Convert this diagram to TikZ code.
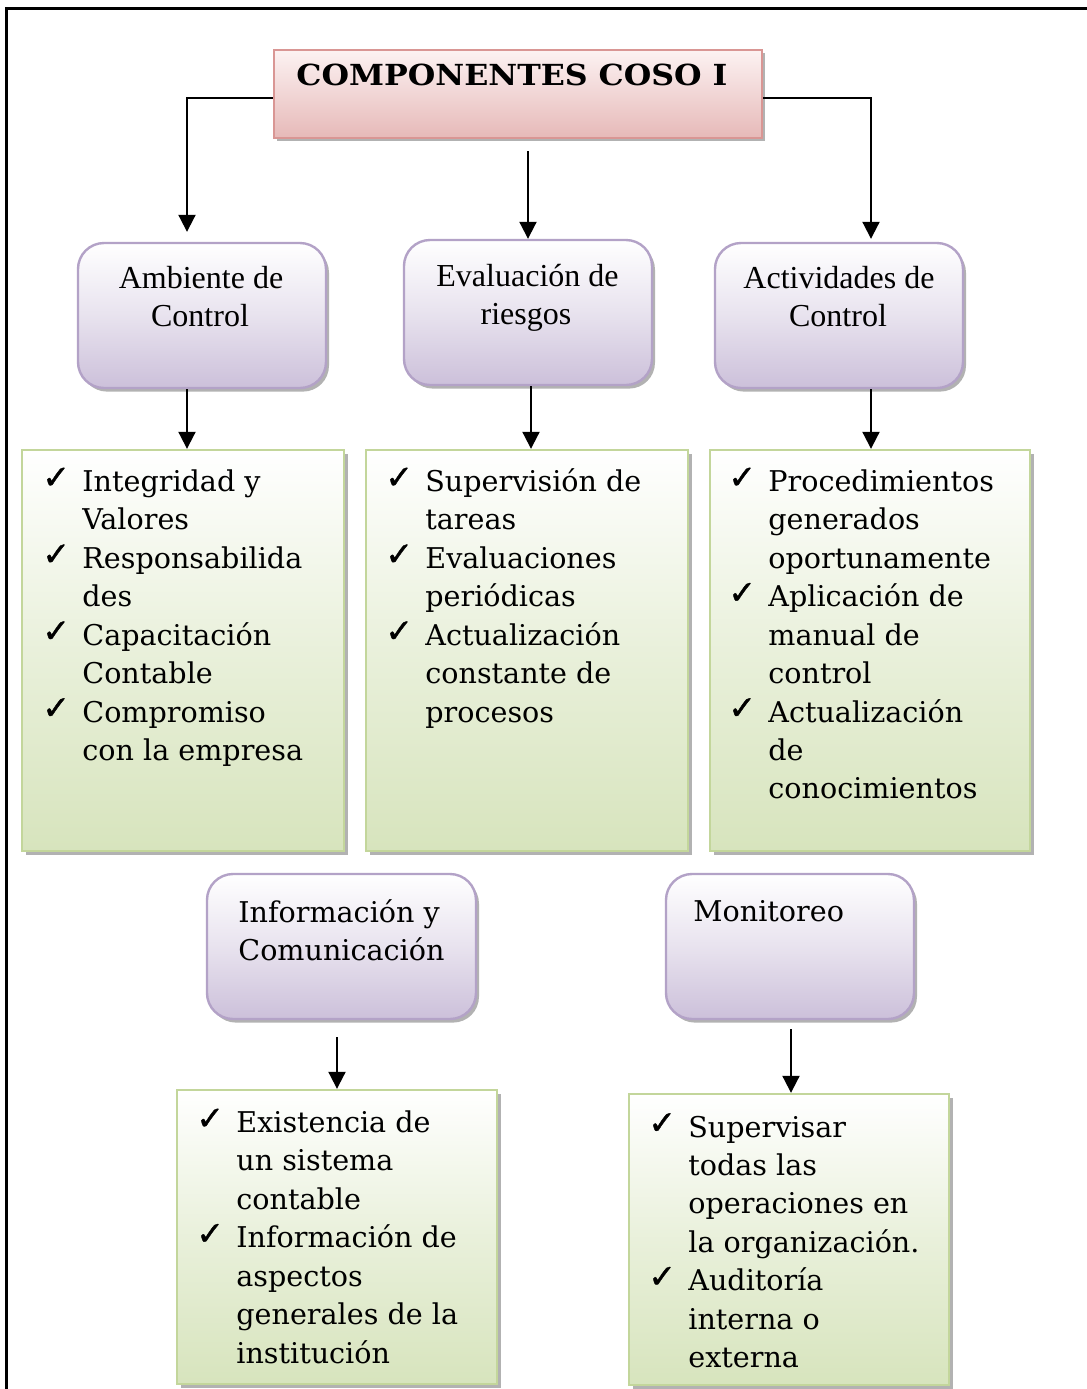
\documentclass[tikz,border=0pt]{standalone}
\usepackage{fontspec}
\setmainfont{Liberation Serif}
\newfontfamily\cent{DejaVu Serif}
\newfontfamily\chkf{DejaVu Sans}[FakeBold=1.2]
\newfontfamily\titlef{DejaVu Serif}[FakeStretch=1.09]
\usetikzlibrary{arrows.meta,shadows}
\definecolor{pinkB}{HTML}{E6B9B8}
\definecolor{pinkT}{HTML}{FCF2F2}
\definecolor{pinkD}{HTML}{D99694}
\definecolor{purB}{HTML}{CCC0DA}
\definecolor{purD}{HTML}{B3A2C7}
\definecolor{grnB}{HTML}{D7E4BD}
\definecolor{grnD}{HTML}{C3D69B}
\newcommand{\mylines}[5]{%
  \foreach \t [count=\i] in {#4}
    \node[gtext] (#1l\i) at (#2,{#3+38.43*(\i-1)}) {\t};
  \foreach \j in {#5}
    \node[chk] (#1c\j) at ({#2-40},{#3+38.43*(\j-1)-3}) {✓};
}
\begin{document}
\begin{tikzpicture}[x=0.5pt,y=-0.5pt,
  titlebox/.style={draw=pinkD, line width=1.2pt, top color=pinkT, bottom color=pinkB,
    minimum width=244pt, minimum height=44pt, inner sep=0pt,
    drop shadow={shadow xshift=1.5pt, shadow yshift=-1.5pt, fill=black, opacity=0.3}},
  purbox/.style={draw=purD, line width=1.2pt, rounded corners=13pt, top color=white,
    bottom color=purB, middle color=purB!45, minimum width=124pt, minimum height=72.5pt, inner sep=0pt,
    drop shadow={shadow xshift=1.5pt, shadow yshift=-1.8pt, fill=black, opacity=0.3}},
  grnbox/.style={draw=grnD, line width=1.2pt, top color=white, bottom color=grnB,
    middle color=grnB!55, minimum width=161pt, minimum height=200.5pt, inner sep=0pt,
    drop shadow={shadow xshift=2pt, shadow yshift=-2pt, fill=black, opacity=0.3}},
  gtext/.style={anchor=base west, inner sep=0pt, font=\cent\fontsize{14.3}{17}\selectfont},
  chk/.style={anchor=base west, inner sep=0pt, font=\chkf\fontsize{16.5}{19}\selectfont},
  ptext/.style={anchor=base, inner sep=0pt, font=\fontsize{16}{19}\selectfont},
  arr/.style={line width=1pt, -{Triangle[length=8.5pt,width=8.5pt]}},
]
\useasboundingbox (0,0) rectangle (1087,1389);
\clip (0,0) rectangle (1087,1389);
\fill[white] (0,0) rectangle (1087,1389);
\draw[line width=1.5pt] (6,1420) -- (6,8) -- (1120,8);

% boxes
\node[titlebox] (title) at (518,94) {};
\node[purbox] (A) at (202,315.5) {};
\node[purbox] (B) at (528,312.5) {};
\node[purbox] (C) at (839,315.5) {};
\node[grnbox] (G1) at (183,650.5) {};
\node[grnbox] (G2) at (527,650.5) {};
\node[grnbox, minimum width=160pt] (G3) at (870,650.5) {};
\node[purbox, minimum width=134.5pt] (D) at (341.5,946.5) {};
\node[purbox] (E) at (790,946.5) {};
\node[grnbox, minimum width=160pt, minimum height=147pt] (G4) at (337,1237) {};
\node[grnbox, minimum width=160pt, minimum height=145.5pt] (G5) at (789,1239.5) {};

% title text
\node[anchor=base west, inner sep=0pt, font=\titlef\bfseries\fontsize{14.5}{17}\selectfont] (ttl) at (296,85) {COMPONENTES COSO I};

% purple texts
\node[ptext] (a1) at (201,288) {Ambiente de};
\node[ptext] (a2) at (200,326) {Control};
\node[ptext] (b1) at (527.5,286) {Evaluación de};
\node[ptext] (b2) at (526,324) {riesgos};
\node[ptext] (c1) at (839,288) {Actividades de};
\node[ptext] (c2) at (838,326) {Control};
\node[gtext] (d1) at (238,922.5) {Información y};
\node[gtext] (d2) at (238,960) {Comunicación};
\node[gtext] (e1) at (693,921.5) {Monitoreo};

% green lists
\mylines{ga}{82}{491.5}{Integridad y,Valores,Responsabilida,des,Capacitación,Contable,Compromiso,con la empresa}{1,3,5,7}
\mylines{gb}{425}{491.5}{Supervisión de,tareas,Evaluaciones,periódicas,Actualización,constante de,procesos}{1,3,5}
\mylines{gc}{768}{491.5}{Procedimientos,generados,oportunamente,Aplicación de,manual de,control,Actualización,de,conocimientos}{1,4,7}
\mylines{gd}{236}{1132.5}{Existencia de,un sistema,contable,Información de,aspectos,generales de la,institución}{1,4}
\mylines{ge}{688}{1137}{Supervisar,todas las,operaciones en,la organización.,Auditoría,interna o,externa}{1,5}

% connectors
\draw[arr] ([yshift=-2pt]title.west) -| ([xshift=-7.5pt,yshift=5pt]A.north);
\coordinate (tb) at ([yshift=-6pt]title.south);
\draw[arr] (tb -| B.north) -- (B.north);
\draw[arr] ([yshift=-2pt]title.east) -| ([xshift=16pt,yshift=1.5pt]C.north);
\coordinate (as) at ([xshift=-7.5pt]A.south);
\draw[arr] (as) -- (as |- G1.north);
\coordinate (bs) at ([xshift=1.5pt]B.south);
\draw[arr] (bs) -- (bs |- G2.north);
\coordinate (cs) at ([xshift=16pt]C.south);
\draw[arr] (cs) -- (cs |- G3.north);
\coordinate (ds) at ([xshift=-2.25pt,yshift=-8.5pt]D.south);
\draw[arr] (ds) -- (ds |- G4.north);
\coordinate (es) at ([xshift=0.5pt,yshift=-4.5pt]E.south);
\draw[arr] (es) -- (es |- G5.north);
\end{tikzpicture}
\end{document}
